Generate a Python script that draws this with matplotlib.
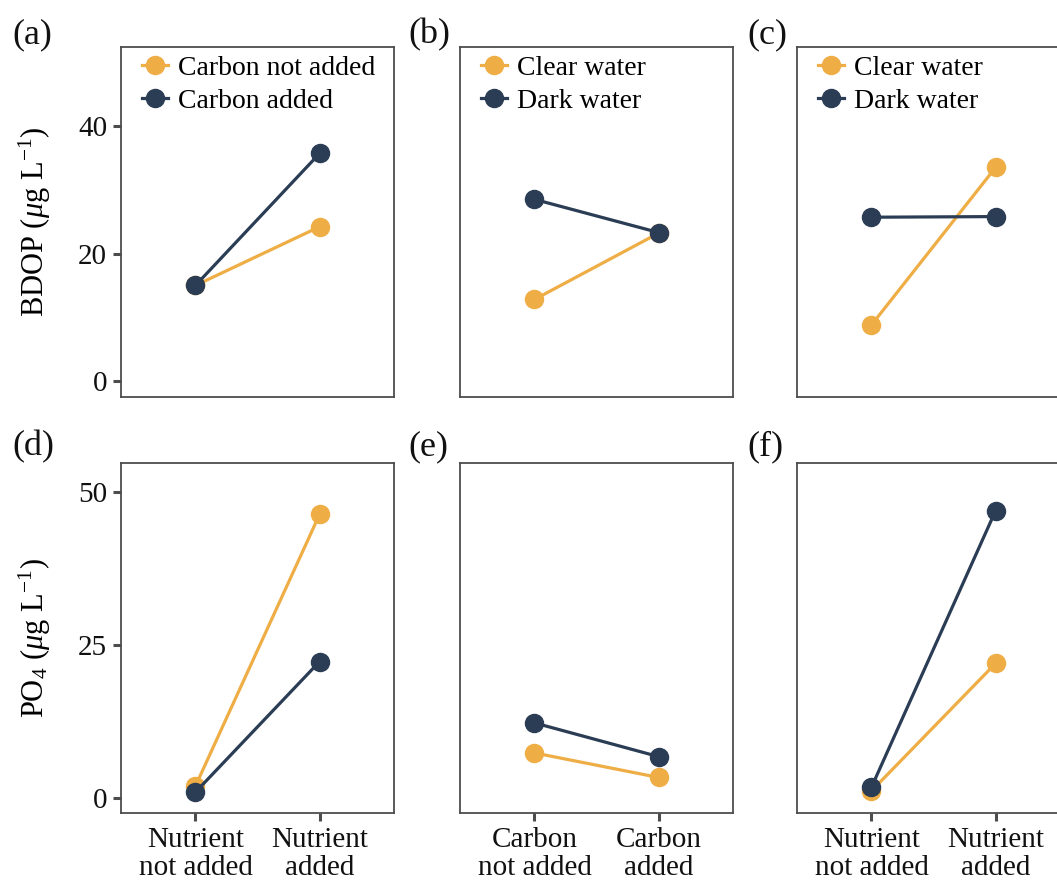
import matplotlib
matplotlib.use("Agg")
import matplotlib.pyplot as plt

plt.rcParams['font.family'] = ['Liberation Serif', 'DejaVu Serif']
plt.rcParams['mathtext.fontset'] = 'custom'
plt.rcParams['mathtext.rm'] = 'Liberation Serif'
plt.rcParams['mathtext.it'] = 'Liberation Serif:italic'

# ---- data ----
nutrient_cats = ["Nutrient\nnot added", "Nutrient\nadded"]
carbon_cats = ["Carbon\nnot added", "Carbon\nadded"]

# (a) BDOP by nutrient, grouped by carbon
a_carbon_not_added = [15.0, 24.2]
a_carbon_added = [15.0, 35.7]
# (b) BDOP by carbon, grouped by water
b_clear = [12.8, 23.2]
b_dark = [28.5, 23.3]
# (c) BDOP by nutrient, grouped by water
c_clear = [8.8, 33.5]
c_dark = [25.7, 25.8]
# (d) PO4 by nutrient, grouped by carbon
d_carbon_not_added = [2.0, 46.3]
d_carbon_added = [1.0, 22.3]
# (e) PO4 by carbon, grouped by water
e_clear = [7.4, 3.4]
e_dark = [12.3, 6.8]
# (f) PO4 by nutrient, grouped by water
f_clear = [1.2, 22.0]
f_dark = [1.8, 46.9]

carbon_legend = ["Carbon not added", "Carbon added"]
water_legend = ["Clear water", "Dark water"]
panel_letters = ["(a)", "(b)", "(c)", "(d)", "(e)", "(f)"]
top_yticks = [0, 20, 40]
bottom_yticks = [0, 25, 50]

ORANGE = "#EFAD45"
NAVY = "#2B3D55"
SPINE = "#4d4d4d"

W, H = 1057, 883
fig = plt.figure(figsize=(W / 100, H / 100), dpi=100)

col_left = [121, 460, 797]
ax_w = 273
rows = [(47, 397), (463, 813)]

panels = [
    (a_carbon_not_added, a_carbon_added, nutrient_cats, carbon_legend),
    (b_clear, b_dark, carbon_cats, water_legend),
    (c_clear, c_dark, nutrient_cats, water_legend),
    (d_carbon_not_added, d_carbon_added, nutrient_cats, carbon_legend),
    (e_clear, e_dark, carbon_cats, water_legend),
    (f_clear, f_dark, nutrient_cats, water_legend),
]

for i, (s1, s2, cats, leg) in enumerate(panels):
    r, c = divmod(i, 3)
    top, bot = rows[r]
    left = col_left[c]
    ax = fig.add_axes([left / W, 1 - bot / H, ax_w / W, (bot - top) / H])
    x = list(range(len(cats)))
    ax.plot(x, s1, color=ORANGE, lw=2.3, marker='o', ms=13, label=leg[0], zorder=3)
    ax.plot(x, s2, color=NAVY, lw=2.3, marker='o', ms=13, label=leg[1], zorder=4)
    ax.set_xlim(-0.6, 1.6)
    if r == 0:
        ax.set_ylim(-2.5, 52.4)
        ax.set_yticks(top_yticks)
    else:
        ax.set_ylim(-2.4, 54.7)
        ax.set_yticks(bottom_yticks)
    ax.set_xticks(x)
    for sp in ax.spines.values():
        sp.set_color(SPINE)
        sp.set_linewidth(1.3)
    ax.tick_params(axis='both', colors=SPINE, width=2.2, length=6,
                   labelsize=21, labelcolor='#111111', pad=4)
    if r == 1:
        ax.set_xticklabels(cats, linespacing=1.1)
    else:
        ax.tick_params(axis='x', bottom=False, labelbottom=False)
    if c != 0:
        ax.tick_params(axis='y', left=False, labelleft=False)
    if r == 0:
        ax.legend(loc='upper left', bbox_to_anchor=(0.045, 1.0), frameon=False,
                  fontsize=20, handlelength=0.95, handletextpad=0.35,
                  labelspacing=0.28, borderaxespad=0.2, borderpad=0.1)
    if c == 0:
        if r == 0:
            ax.set_ylabel(r"BDOP ($\mu$g L$^{-1}$)", fontsize=22, labelpad=18)
        else:
            ax.set_ylabel(r"PO$_4$ ($\mu$g L$^{-1}$)", fontsize=22, labelpad=18)
    lab_x = {0: 12, 1: 408, 2: 747}[c]
    lab_y = {0: 35, 1: 447}[r]
    fig.text(lab_x / W, 1 - lab_y / H, panel_letters[i], fontsize=26,
             ha='left', va='center', color='#111111')

fig.savefig("out.png", dpi=100)
